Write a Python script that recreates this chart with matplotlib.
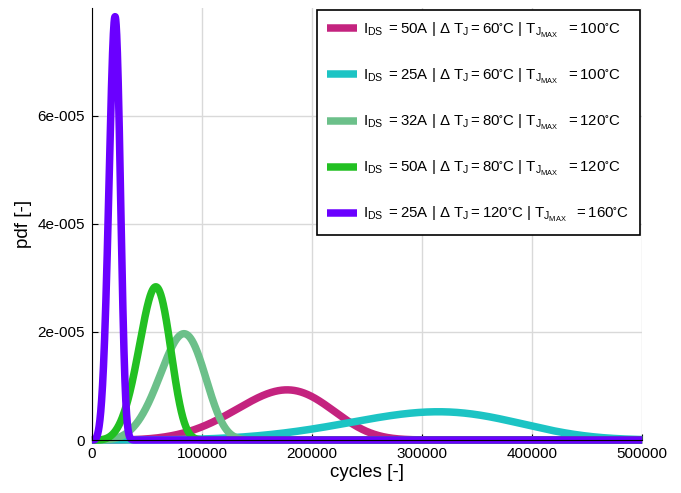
import matplotlib
matplotlib.use("Agg")
import matplotlib.pyplot as plt
from matplotlib.ticker import FuncFormatter
import numpy as np

plt.rcParams["font.family"] = ["Liberation Sans", "DejaVu Sans"]
plt.rcParams["mathtext.fontset"] = "custom"
plt.rcParams["mathtext.rm"] = "Liberation Sans"
plt.rcParams["mathtext.it"] = "Liberation Sans:italic"

# Weibull fits of the cycles-to-failure, one per test condition
labels = [
    r"$\mathregular{I_{DS}\ = 50A\ |\ \Delta\ T_J = 60^{\circ}C\ |\ T_{J_{MAX}}\ \ = 100^{\circ}C}$",
    r"$\mathregular{I_{DS}\ = 25A\ |\ \Delta\ T_J = 60^{\circ}C\ |\ T_{J_{MAX}}\ \ = 100^{\circ}C}$",
    r"$\mathregular{I_{DS}\ = 32A\ |\ \Delta\ T_J = 80^{\circ}C\ |\ T_{J_{MAX}}\ \ = 120^{\circ}C}$",
    r"$\mathregular{I_{DS}\ = 50A\ |\ \Delta\ T_J = 80^{\circ}C\ |\ T_{J_{MAX}}\ \ = 120^{\circ}C}$",
    r"$\mathregular{I_{DS}\ = 25A\ |\ \Delta\ T_J = 120^{\circ}C\ |\ T_{J_{MAX}}\ \ = 160^{\circ}C}$",
]
shape = [4.6, 4.6, 4.6, 4.6, 4.6]
scale = [187000, 332000, 88200, 61200, 22150]
colors = ["#c4237f", "#1cc4c4", "#6cc08a", "#22c022", "#6a00ff"]

cycles = np.linspace(0, 500000, 4001)

fig = plt.figure(figsize=(6.81, 4.93), dpi=100)
ax = fig.add_axes([0.135, 0.1075, 0.808, 0.8765])

for k, lam, c, lab in zip(shape, scale, colors, labels):
    z = cycles / lam
    pdf = (k / lam) * z ** (k - 1) * np.exp(-z ** k)
    ax.plot(cycles, pdf, color=c, lw=5.4, label=lab, clip_on=False,
            solid_capstyle="butt")

ax.set_xlim(0, 500000)
ax.set_ylim(0, 8e-5)
ax.set_xticks([0, 100000, 200000, 300000, 400000, 500000])
ax.set_yticks([0, 2e-5, 4e-5, 6e-5])


def sci(v, pos):
    if v == 0:
        return "0"
    m, e = f"{v:.0e}".split("e")
    return f"{m}e{int(e):+04d}".replace("+", "")


ax.yaxis.set_major_formatter(FuncFormatter(sci))
ax.grid(True, color="#d9d9d9", lw=1)
ax.set_axisbelow(True)
for s in ["top", "right"]:
    ax.spines[s].set_visible(False)
ax.tick_params(direction="in", length=4, labelsize=11, pad=5)
ax.set_xlabel("cycles [-]", fontsize=13.5, labelpad=2)
ax.set_ylabel("pdf [-]", fontsize=13.5, labelpad=4)

leg = ax.legend(loc="upper right", fontsize=10.8, handlelength=2.0,
                labelspacing=1.8, borderpad=0.7, handletextpad=0.4,
                borderaxespad=0.15, fancybox=False, framealpha=1,
                edgecolor="black", bbox_to_anchor=(1.0, 1.0))
leg.get_frame().set_linewidth(1.2)

fig.savefig("out.png", dpi=100)
